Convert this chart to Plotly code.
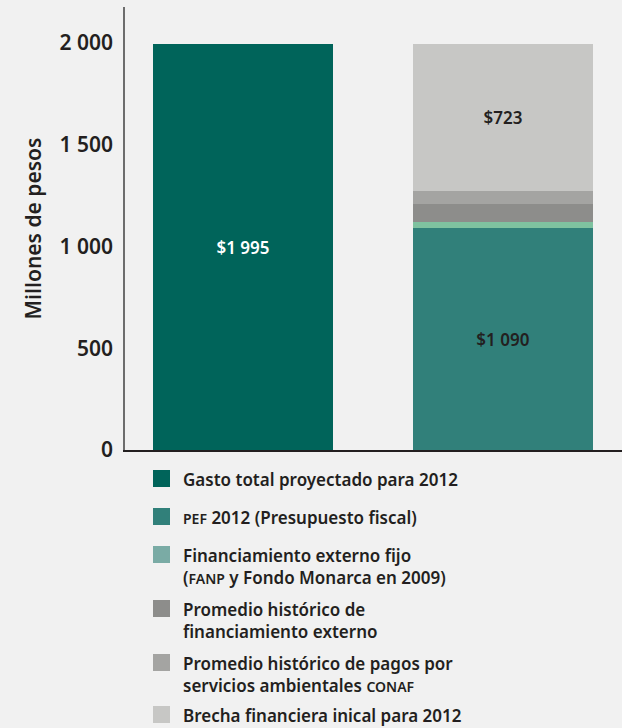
import plotly.graph_objects as go

# data
categories = ['gasto', 'brecha']
gasto_total = [1995, None]
pef_2012 = [None, 1090]
fin_externo_fijo = [None, 32]
prom_fin_externo = [None, 87]
prom_conaf = [None, 63]
brecha_2012 = [None, 723]

tick_vals = [0, 500, 1000, 1500, 2000]
tick_text = ['0', '500', '1 000', '1 500', '2 000']

SC = "<span style='font-size:14px'>%s</span>"
legend_labels = [
    'Gasto total proyectado para 2012',
    SC % 'PEF' + ' 2012 (Presupuesto fiscal)',
    'Financiamiento externo fijo<br>(' + SC % 'FANP' + ' y Fondo Monarca en 2009)',
    'Promedio histórico de<br>financiamiento externo',
    'Promedio histórico de pagos por<br>servicios ambientales ' + SC % 'CONAF',
    'Brecha financiera inical para 2012',
]
legend_colors = ['#00645A', '#31807A', '#7AABA5', '#8D8D8B', '#A4A4A2', '#C7C7C5']

FONT = 'Noto Sans'
DARK = '#231F20'

fig = go.Figure()

series = [
    (gasto_total, '#00645A', ['$1 995', ''], 'white'),
    (pef_2012, '#31807A', ['', '$1 090'], DARK),
    (fin_externo_fijo, '#7FC2A0', ['', ''], DARK),
    (prom_fin_externo, '#8D8D8B', ['', ''], DARK),
    (prom_conaf, '#A4A4A2', ['', ''], DARK),
    (brecha_2012, '#C7C7C5', ['', '$723'], DARK),
]
for vals, col, txt, tcol in series:
    fig.add_trace(go.Bar(
        x=categories, y=vals, marker=dict(color=col, line=dict(width=0)),
        text=txt, textposition='inside', insidetextanchor='middle',
        textangle=0, constraintext='none',
        textfont=dict(family=FONT, size=17, color=tcol, weight=600),
        width=0.692, showlegend=False, hoverinfo='skip',
    ))

# plot area in pixels: x 125..622, y 7..450
L, R, T, B = 125, 0, 7, 278
W, H = 622, 728
pw, ph = W - L - R, H - T - B

def px(x):
    return (x - L) / pw

def py(y):
    return (T + ph - y) / ph

# legend drawn by hand
shapes = []
annotations = []
tops = [470, 508, 546, 600, 654, 706]
for lab, col, top in zip(legend_labels, legend_colors, tops):
    shapes.append(dict(type='rect', xref='paper', yref='paper',
                       x0=px(153), x1=px(170), y0=py(top), y1=py(top + 17),
                       fillcolor=col, line=dict(width=0)))
    annotations.append(dict(xref='paper', yref='paper', x=px(182), y=py(top - 3),
                            xanchor='left', yanchor='top', align='left',
                            text=lab, showarrow=False, borderpad=0,
                            font=dict(family=FONT, size=17, color=DARK, weight=600)))

fig.update_layout(
    width=W, height=H,
    margin=dict(l=L, r=R, t=T, b=B, autoexpand=False),
    paper_bgcolor='#F1F1F1', plot_bgcolor='#F1F1F1',
    barmode='stack', bargap=0,
    shapes=shapes, annotations=annotations,
    showlegend=False,
    xaxis=dict(range=[-0.454, -0.454 + pw / 260], showticklabels=False, showgrid=False,
               zeroline=False, showline=True, linecolor=DARK, linewidth=1.5,
               ticks=''),
    yaxis=dict(range=[0, 2177], tickvals=tick_vals, ticktext=tick_text,
               showgrid=False, zeroline=False, showline=True,
               linecolor='#6D6D6D', linewidth=1.5, ticks='outside', ticklen=6,
               tickcolor='rgba(0,0,0,0)',
               tickfont=dict(family=FONT, size=21, color=DARK, weight=600),
               title=dict(text='Millones de pesos', standoff=12,
                          font=dict(family=FONT, size=21, color=DARK, weight=600))),
)

fig.write_html('out.html', config={'displayModeBar': False},
               post_script="document.body.style.margin='0';")
